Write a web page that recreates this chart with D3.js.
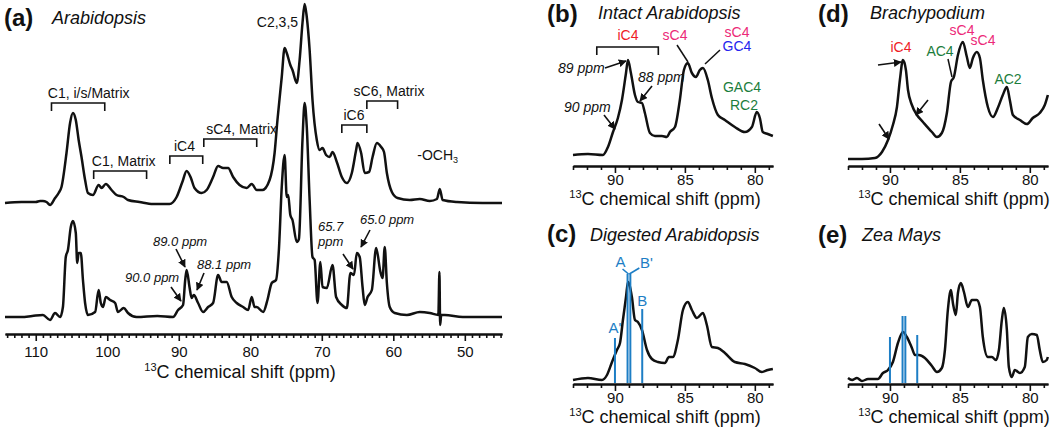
<!DOCTYPE html>
<html><head><meta charset="utf-8">
<script src="https://cdn.jsdelivr.net/npm/d3@7"></script>
<style>
body{margin:0;background:#fff;}
svg{display:block;font-family:"Liberation Sans",Arial,Helvetica,sans-serif;}
</style></head><body>
<svg id="chart" width="1050" height="429"></svg>
<script>
// ---------------- DATA (ppm, intensity in arbitrary units) ----------------
const aUpper = [[114.3,0],[112,1],[110,1],[109.4,2],[109,2],[108.5,1],[108,-2],[107.3,5],[106.8,10],[106.4,16],[105.7,50],[105.2,80],[104.8,90],[104.4,83],[104,63],[103.6,46],[103.1,23],[102.7,10],[102,8],[101.2,18],[100.8,15],[100.2,19],[99.4,13],[98.7,8],[97.7,6],[97.1,3],[95.5,1],[93.6,-1],[91.3,-1],[90.3,6],[89.5,21],[88.9,32],[88.3,25],[87.8,15],[86.8,10],[86.1,13],[85.2,26],[84.5,37],[83.8,35],[83.1,35],[82.4,26],[81.5,18],[80.5,15],[79.8,19],[79.1,13],[78.3,13],[77.3,23],[76.6,50],[76.2,83],[75.6,126],[75.2,155],[74.9,150],[74.4,138],[74.1,133],[73.5,120],[73.1,143],[72.7,180],[72.4,199],[72.1,186],[71.7,153],[71.3,103],[70.7,63],[70.3,53],[69.9,55],[69.4,48],[68.9,46],[68.5,51],[67.9,41],[67.2,26],[66.5,20],[65.8,30],[65.2,53],[65,60],[64.5,50],[64,30],[63.4,31],[62.9,46],[62.3,60],[61.7,56],[61.3,51],[60.9,30],[60.2,11],[59.4,5],[57.7,3],[56.3,4],[54.9,2],[53.9,4],[53.5,14],[53.1,3],[51.1,1],[47.5,0],[44.8,0]];

const aLower = [[114.3,0],[112,0],[110.5,1],[109,2],[108,-3],[107.3,4],[106.6,0],[106.2,10],[105.8,60],[105.5,67],[105.1,90],[104.8,96],[104.4,84],[104.2,54],[104,64],[103.7,64],[103.4,37],[103.1,14],[102.7,2],[101.7,5],[101.2,27],[100.9,14],[100.6,10],[100.2,20],[99.6,17],[98.9,14],[98.5,5],[97.7,9],[97.1,4],[95.9,0],[93,1],[90.8,0],[90.1,7],[89.4,12],[89.1,37],[88.9,47],[88.5,30],[88.2,19],[87.9,22],[87.3,14],[86.6,5],[85.9,10],[85.2,14],[84.5,42],[84,35],[83.3,35],[82.6,20],[81.9,14],[81,10],[80.3,7],[79.8,20],[79.4,10],[79.1,10],[78.2,5],[77.6,17],[77,34],[76.4,37],[76,67],[75.6,130],[75.2,162],[74.9,120],[74.7,122],[74.4,102],[74.1,97],[73.5,75],[73.2,78],[72.7,177],[72.4,214],[72.1,190],[71.7,117],[71.3,60],[71,57],[70.6,14],[70.2,55],[69.9,30],[69.3,29],[68.5,52],[68,20],[67.2,12],[66.5,9],[66,44],[65.5,42],[65.1,64],[64.7,60],[64.3,30],[64,12],[63.6,20],[63,27],[62.4,69],[61.8,45],[61.5,39],[61.2,70],[60.9,34],[60.5,10],[59.8,4],[58.1,2],[56.3,5],[54.9,4],[53.7,2],[53.55,45],[53.45,-8],[53.3,2],[52.8,2],[50.3,0],[44.8,0]];

const bIntact = [[93,11],[91.93,12],[90.86,11],[90.5,19],[90.14,34],[89.79,48],[89.5,66],[89.21,93],[89.07,106],[88.86,93],[88.57,71],[88.36,64],[88.07,63],[87.86,53],[87.5,33],[87.14,30],[86.64,30],[86.29,29],[86.07,34],[85.71,39],[85.36,66],[85.07,96],[84.79,103],[84.5,93],[84.21,89],[83.93,96],[83.71,98],[83.36,86],[83.07,68],[82.64,51],[82.14,46],[81.43,39],[80.71,34],[80.21,39],[79.86,54],[79.64,48],[79.43,34],[79.07,32],[78.71,30]];

const cDigested = [[93,4],[91.93,6],[90.93,4],[90.57,9],[90.21,22],[89.86,34],[89.64,41],[89.43,64],[89.21,87],[89.07,102],[88.79,87],[88.57,64],[88.36,62],[88.07,54],[87.71,34],[87.36,25],[86.93,22],[86.43,21],[86.14,27],[85.86,27],[85.5,44],[85.14,74],[84.79,82],[84.5,74],[84.14,66],[83.71,71],[83.43,59],[83.07,37],[82.64,36],[82.14,31],[81.43,22],[80.71,20],[80,16],[79.5,12],[79.07,14],[78.71,15]];

const dBrachy = [[93,7],[92,7],[91.07,8],[90.57,14],[90.14,26],[89.79,41],[89.5,59],[89.29,86],[89.07,106],[88.86,96],[88.71,76],[88.43,61],[88.07,51],[87.64,44],[87,34],[86.64,29],[86.29,33],[85.93,53],[85.64,84],[85.43,89],[85.14,111],[84.79,124],[84.5,109],[84.29,98],[84.07,108],[83.79,114],[83.57,108],[83.36,86],[83,59],[82.64,49],[82.29,58],[81.93,71],[81.64,79],[81.43,66],[81.21,51],[80.71,46],[80.21,42],[79.79,48],[79.29,53],[78.93,61],[78.71,71]];

const eZea = [[93,6],[92.71,4],[92.36,6],[92,3],[91.57,5],[90.86,5],[90.5,11],[90.14,14],[89.79,22],[89.43,41],[89.07,52],[88.79,47],[88.43,36],[88.21,29],[87.93,29],[87.5,26],[87,18],[86.64,12],[86.29,16],[86.07,34],[85.86,74],[85.64,94],[85.5,81],[85.29,69],[85.14,91],[84.93,101],[84.71,92],[84.43,77],[84.14,84],[83.79,84],[83.57,77],[83.36,47],[83,27],[82.71,27],[82.43,24],[82.21,34],[82,64],[81.86,76],[81.64,54],[81.5,17],[81.29,7],[81.07,14],[80.71,11],[80.36,17],[80.14,47],[79.86,50],[79.5,49],[79.29,34],[79.07,22],[78.79,24],[78.71,27]];

// reference sticks (ppm, height)
const stickNames = ["A'","A","B'","B"];
const stickPpm = [90.0, 89.1, 88.9, 88.05];
const cStickHeights = [46, 110, 110, 75];
const eStickHeights = [47, 68, 68, 49];

// axis ticks
const aMajorTicks = [110,100,90,80,70,60,50];
const smallMajorTicks = [90,85,80];

// ---------------- DRAWING ----------------
const svg = d3.select("#chart");
const INK = "#111";
const RED = "#ee1c25", PINK = "#ec2a78", BLUE = "#2424ee", GREEN = "#1b7d3c", STICK = "#1d7ec5";

svg.append("defs").append("marker")
  .attr("id","ah").attr("viewBox","0 0 10 10").attr("refX",9).attr("refY",5)
  .attr("markerWidth",8).attr("markerHeight",8).attr("markerUnits","userSpaceOnUse")
  .attr("orient","auto")
  .append("path").attr("d","M0,0L10,5L0,10z").attr("fill",INK);

function text(x, y, s, opts={}) {
  const t = svg.append("text").attr("x",x).attr("y",y)
    .attr("font-size", opts.size || 14)
    .attr("fill", opts.color || INK)
    .attr("text-anchor", opts.anchor || "middle")
    .text(s);
  if (opts.italic) t.attr("font-style","italic");
  if (opts.bold) t.attr("font-weight","bold");
  return t;
}
function arrow(x1,y1,x2,y2){
  svg.append("line").attr("x1",x1).attr("y1",y1).attr("x2",x2).attr("y2",y2)
    .attr("stroke",INK).attr("stroke-width",1.6).attr("marker-end","url(#ah)");
}
function seg(x1,y1,x2,y2,color,w){
  svg.append("line").attr("x1",x1).attr("y1",y1).attr("x2",x2).attr("y2",y2)
    .attr("stroke",color||INK).attr("stroke-width",w||1.5);
}
function bracket(x1,x2,y,leg){
  svg.append("path").attr("d",`M${x1},${y+leg}V${y}H${x2}V${y+leg}`)
    .attr("fill","none").attr("stroke",INK).attr("stroke-width",1.6);
}
function spectrum(data, x, y){
  svg.append("path").datum(data)
    .attr("d", d3.line().x(d=>x(d[0])).y(d=>y(d[1])).curve(d3.curveMonotoneX))
    .attr("fill","none").attr("stroke",INK).attr("stroke-width",2.5)
    .attr("stroke-linejoin","round");
}
function axis(x, yPos, majors, minorLo, minorHi, labelOff, titleX, titleOff){
  const minors = d3.range(minorLo, minorHi+1, 1).filter(v=>!majors.includes(v));
  const gm = svg.append("g").attr("transform",`translate(0,${yPos})`)
    .call(d3.axisBottom(x).tickValues(minors).tickSize(4).tickFormat("").tickSizeOuter(0));
  const g = svg.append("g").attr("transform",`translate(0,${yPos})`)
    .call(d3.axisBottom(x).tickValues(majors).tickSize(7).tickSizeOuter(0).tickFormat(d3.format("d")));
  [gm,g].forEach(gg=>{
    gg.select(".domain").attr("stroke",INK).attr("stroke-width",2);
    gg.selectAll(".tick line").attr("stroke",INK).attr("stroke-width",1.6);
  });
  g.selectAll(".tick text").attr("y",labelOff).attr("dy",0)
    .attr("font-size",15).attr("fill",INK)
    .attr("font-family",'"Liberation Sans",Arial,sans-serif');
  const t = svg.append("text").attr("x",titleX).attr("y",yPos+titleOff)
    .attr("text-anchor","middle").attr("font-size",18).attr("fill",INK);
  t.append("tspan").attr("font-size",11).attr("dy",-7).text("13");
  t.append("tspan").attr("dy",7).text("C chemical shift (ppm)");
}

// ---- Panel (a)
const xA = d3.scaleLinear().domain([114.3, 44.8]).range([5, 502]);
const yAUp = d3.scaleLinear().domain([0,200]).range([203,3]);
const yALo = d3.scaleLinear().domain([0,200]).range([317,117]);
spectrum(aUpper, xA, yAUp);
spectrum(aLower, xA, yALo);
axis(xA, 334, aMajorTicks, 45, 114, 23, 240, 44);
text(4, 26, "(a)", {size:24, bold:true, anchor:"start"});
text(52, 24, "Arabidopsis", {size:18, italic:true, anchor:"start"});

const aBrackets = [
  {label:"C1, i/s/Matrix", from:107.8, to:100.35, tx:102.6, y:103},
  {label:"C1, Matrix",     from:101.9, to:94.5,   tx:97.7,  y:171},
  {label:"iC4",            from:91.25, to:86.65,  tx:89.2,  y:156},
  {label:"sC4, Matrix",    from:86.5,  to:79.1,   tx:81.2,  y:139},
  {label:"iC6",            from:67.2,  to:63.7,   tx:65.5,  y:125},
  {label:"sC6, Matrix",    from:63.7,  to:59.4,   tx:60.6,  y:101}
];
aBrackets.forEach(b=>{
  bracket(xA(b.from), xA(b.to), b.y, 8);
  text(xA(b.tx), b.y-5, b.label, {size:14});
});
text(xA(76.2), 27, "C2,3,5", {size:14});
const och = text(xA(53.8), 160, "-OCH", {size:14});
och.append("tspan").attr("font-size",9).attr("dy",3).text("3");

// italic peak annotations in (a)
text(153, 246, "89.0 ppm", {size:13, italic:true, anchor:"start"}); arrow(176,249,185,267);
text(197, 269, "88.1 ppm", {size:13, italic:true, anchor:"start"}); arrow(204,273,197,290);
text(125, 282, "90.0 ppm", {size:13, italic:true, anchor:"start"}); arrow(171,287,181,301);
text(318, 231, "65.7", {size:13, italic:true, anchor:"start"});
text(318, 246, "ppm", {size:13, italic:true, anchor:"start"}); arrow(343,254,353,269);
text(360, 224, "65.0 ppm", {size:13, italic:true, anchor:"start"}); arrow(370,230,361,247);

// ---- small panels
const xL = d3.scaleLinear().domain([93, 78.7]).range([573, 773]);
const xR = d3.scaleLinear().domain([93, 78.7]).range([848, 1048]);
const yTop = d3.scaleLinear().domain([0,100]).range([166,66]);
const yBot = d3.scaleLinear().domain([0,100]).range([384,284]);

// (b)
spectrum(bIntact, xL, yTop);
axis(xL, 166, smallMajorTicks, 79, 93, 19, 665, 39);
text(547, 22, "(b)", {size:24, bold:true, anchor:"start"});
text(598, 19, "Intact Arabidopsis", {size:18, italic:true, anchor:"start"});
bracket(xL(91.3), xL(86.9), 47, 8);
text(628, 40, "iC4", {size:14, color:RED});
text(675, 40, "sC4", {size:14, color:PINK}); seg(677,45,688,62);
text(737, 37, "sC4", {size:14, color:PINK});
text(737, 51, "GC4", {size:14, color:BLUE}); seg(720,50,705,64);
text(742, 92, "GAC4", {size:14, color:GREEN});
text(744, 110, "RC2", {size:14, color:GREEN});
text(558, 73, "89 ppm", {size:14, italic:true, anchor:"start"}); arrow(605,68,626,61);
text(638, 82, "88 ppm", {size:14, italic:true, anchor:"start"}); arrow(652,86,640,101);
text(564, 112, "90 ppm", {size:14, italic:true, anchor:"start"}); arrow(604,115,615,129);

// (c)
function sticks(x, y, heights){
  stickPpm.forEach((p,i)=>{
    svg.append("line").attr("x1",x(p)).attr("x2",x(p))
      .attr("y1",y(0)-1).attr("y2",y(heights[i]))
      .attr("stroke",STICK).attr("stroke-width",2);
  });
}
spectrum(cDigested, xL, yBot);
sticks(xL, yBot, cStickHeights);
axis(xL, 384, smallMajorTicks, 79, 93, 19, 665, 39);
text(547, 242, "(c)", {size:24, bold:true, anchor:"start"});
text(590, 241, "Digested Arabidopsis", {size:18, italic:true, anchor:"start"});
text(xL(stickPpm[1])-7, 267, stickNames[1], {size:15, color:STICK});
text(xL(stickPpm[2])+16, 268, stickNames[2], {size:15, color:STICK});
seg(xL(stickPpm[1])-5, 269, xL(stickPpm[1])+1, 274, STICK, 1.6);
seg(xL(stickPpm[2])-1, 274, xL(stickPpm[2])+9, 268, STICK, 1.6);
text(xL(stickPpm[3]), 306, stickNames[3], {size:15, color:STICK});
text(xL(stickPpm[0]), 333, stickNames[0], {size:15, color:STICK});

// (d)
spectrum(dBrachy, xR, yTop);
axis(xR, 166, smallMajorTicks, 79, 93, 19, 954, 39);
text(818, 22, "(d)", {size:24, bold:true, anchor:"start"});
text(870, 19, "Brachypodium", {size:18, italic:true, anchor:"start"});
text(901, 52, "iC4", {size:14, color:RED});
arrow(878,65,901,62);
arrow(928,100,916,115);
arrow(879,124,889,139);
text(940, 56, "AC4", {size:14, color:GREEN}); seg(948,59,952,77);
text(962, 35, "sC4", {size:14, color:PINK});
text(983, 45, "sC4", {size:14, color:PINK});
text(1008, 84, "AC2", {size:14, color:GREEN});

// (e)
spectrum(eZea, xR, yBot);
sticks(xR, yBot, eStickHeights);
axis(xR, 384, smallMajorTicks, 79, 93, 19, 954, 39);
text(818, 243, "(e)", {size:24, bold:true, anchor:"start"});
text(862, 241, "Zea Mays", {size:18, italic:true, anchor:"start"});
</script>
</body></html>
